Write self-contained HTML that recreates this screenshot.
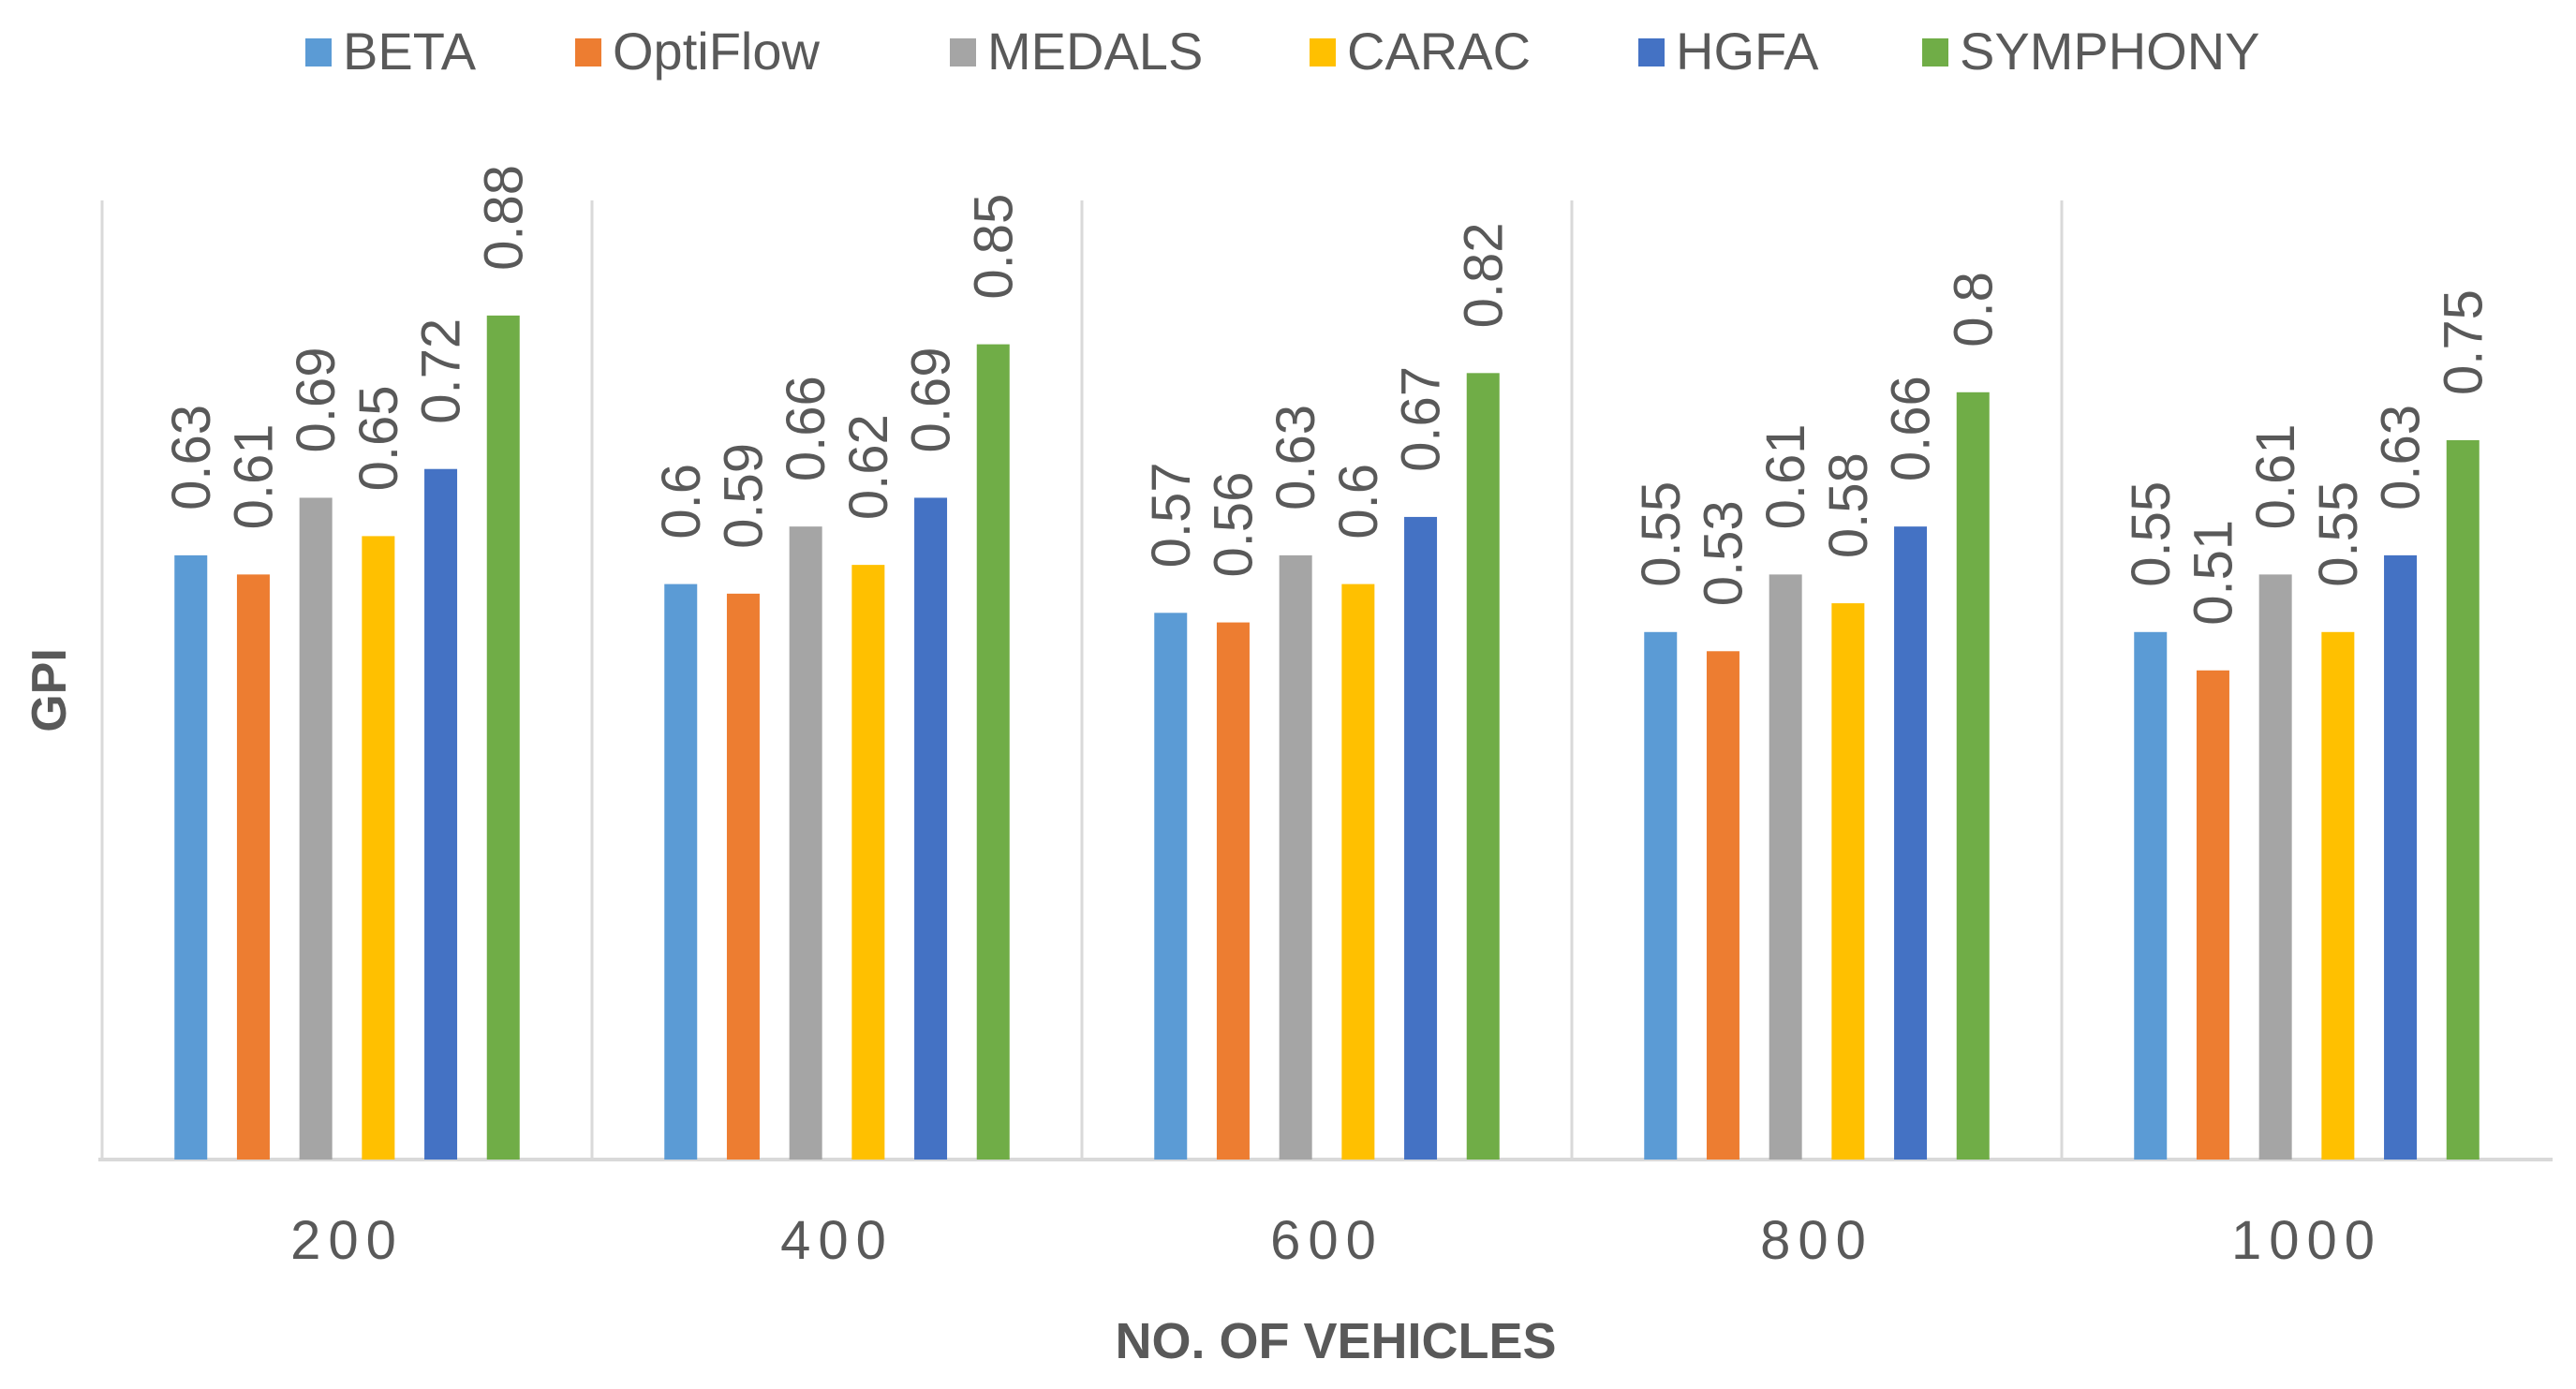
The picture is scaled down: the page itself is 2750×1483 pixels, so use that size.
<!DOCTYPE html>
<html><head><meta charset="utf-8"><style>
body{margin:0;background:#fff;}
svg text{font-family:"Liberation Sans",sans-serif;}
</style></head><body>
<svg id="chart" width="2750" height="1478" xmlns="http://www.w3.org/2000/svg">
<g id="legend"></g>
<g id="grid"></g>
<g id="bars"></g>
<g id="xlabels"></g>
<text x="0" y="0" transform="translate(70,737) rotate(-90)" text-anchor="middle" font-size="52" font-weight="bold" fill="#595959">GPI</text>
<text x="1426" y="1450" text-anchor="middle" font-size="54" font-weight="bold" fill="#595959">NO. OF VEHICLES</text>
</svg>
<script>
const categories=["200","400","600","800","1000"];
const seriesNames=["BETA","OptiFlow","MEDALS","CARAC","HGFA","SYMPHONY"];
const BETA=[0.63,0.6,0.57,0.55,0.55];
const OptiFlow=[0.61,0.59,0.56,0.53,0.51];
const MEDALS=[0.69,0.66,0.63,0.61,0.61];
const CARAC=[0.65,0.62,0.6,0.58,0.55];
const HGFA=[0.72,0.69,0.67,0.66,0.63];
const SYMPHONY=[0.88,0.85,0.82,0.8,0.75];
const series=[BETA,OptiFlow,MEDALS,CARAC,HGFA,SYMPHONY];
const colors=["#5b9bd5","#ed7d31","#a5a5a5","#ffc000","#4472c4","#70ad47"];
const NS="http://www.w3.org/2000/svg";
const plotLeft=109,plotBase=1238,plotTop=214,catW=523,barW=35,step=66.7;
const yScale=v=>plotBase-(plotBase-plotTop)*v;
const xc=(c,s)=>plotLeft+catW*c+catW/2+(s-2.5)*step;
function mk(t,a,p){const e=document.createElementNS(NS,t);for(const k in a)e.setAttribute(k,a[k]);p.appendChild(e);return e;}
const grid=document.getElementById('grid');
for(let i=0;i<categories.length;i++){
 const l=mk('line',{x1:plotLeft+catW*i,x2:plotLeft+catW*i,y1:plotTop,y2:plotBase,stroke:'#d9d9d9','stroke-width':3},grid);
 
 
}
const bl=mk('line',{x1:plotLeft-4,x2:2725,y1:plotBase,y2:plotBase,stroke:'#d9d9d9','stroke-width':4},grid);


const bars=document.getElementById('bars');
series.forEach((vals,s)=>{vals.forEach((v,c)=>{
 const x=xc(c,s);
 const r=mk('rect',{x:x-barW/2,y:yScale(v),width:barW,height:plotBase-yScale(v),fill:colors[s]},bars);
 
 
 const t=mk('text',{transform:`translate(${x+20},${yScale(v)-48}) rotate(-90)`,'font-size':58,fill:'#595959'},bars);
 t.textContent=String(v);
 
 
});});
const xl=document.getElementById('xlabels');
categories.forEach((c,i)=>{
 const t=mk('text',{x:plotLeft+catW*i+catW/2,y:1344,'text-anchor':'middle','font-size':58,'letter-spacing':'8',fill:'#595959'},xl);
 t.textContent=c;
 
 
});
const lg=document.getElementById('legend');
const lx=[326,614,1014,1398,1749,2052];
seriesNames.forEach((n,i)=>{
 const r=mk('rect',{x:lx[i],y:41,width:28,height:30,fill:colors[i]},lg);
 
 
 const t=mk('text',{x:lx[i]+40,y:74,'font-size':56,fill:'#595959'},lg);
 t.textContent=n;
 
 
});
</script>
</body></html>
